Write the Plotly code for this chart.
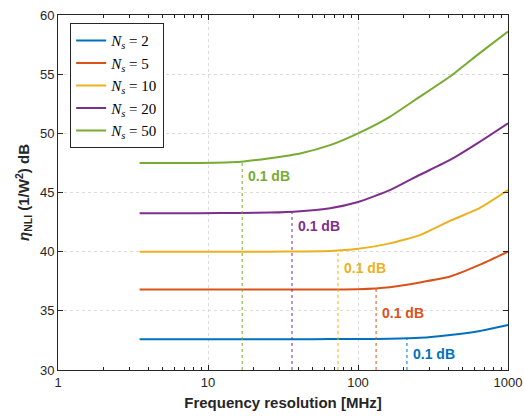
import math
import plotly.graph_objects as go

# Frequency resolution grid [MHz]
freq = [3.5, 8.8, 16.6, 25.9, 41.1, 65.1, 100, 163, 259, 411, 651, 1000]

# eta_NLI [dB] for each number of spans
eta_ns2 = [32.6, 32.6, 32.6, 32.6, 32.6, 32.61, 32.62, 32.64, 32.72, 32.96, 33.3, 33.8]
eta_ns5 = [36.8, 36.8, 36.8, 36.8, 36.8, 36.81, 36.83, 37.0, 37.4, 37.9, 38.9, 40.0]
eta_ns10 = [40.0, 40.0, 40.0, 40.0, 40.02, 40.06, 40.25, 40.7, 41.4, 42.6, 43.7, 45.2]
eta_ns20 = [43.25, 43.25, 43.27, 43.3, 43.42, 43.67, 44.2, 45.2, 46.5, 47.75, 49.3, 50.85]
eta_ns50 = [47.5, 47.5, 47.6, 47.9, 48.3, 49.0, 50.0, 51.4, 53.1, 54.8, 56.8, 58.6]

series_names = ["<i>N</i><sub><i>s</i></sub> = 2", "<i>N</i><sub><i>s</i></sub> = 5",
                "<i>N</i><sub><i>s</i></sub> = 10", "<i>N</i><sub><i>s</i></sub> = 20",
                "<i>N</i><sub><i>s</i></sub> = 50"]
series_vals = [eta_ns2, eta_ns5, eta_ns10, eta_ns20, eta_ns50]
colors = ["#0072BD", "#D95319", "#EDB120", "#7E2F8E", "#77AC30"]

# Resolution at which each curve has risen by 0.1 dB, and the curve level there
f_01db = [212, 132, 73.6, 36.3, 16.9]
eta_at_01db = [32.7, 36.9, 40.1, 43.38, 47.6]
label_y = [31.35, 34.82, 38.62, 42.17, 46.4]

fig = go.Figure()

for name, vals, col in zip(series_names, series_vals, colors):
    fig.add_trace(go.Scatter(x=freq, y=vals, mode="lines", name=name,
                             line=dict(color=col, width=2, shape="spline", smoothing=0.5)))

for f, e, ly, col in zip(f_01db, eta_at_01db, label_y, colors):
    fig.add_trace(go.Scatter(x=[f, f], y=[30, e], mode="lines", showlegend=False,
                             line=dict(color=col, width=1, dash="dot"), hoverinfo="skip"))
    # annotation x on a log axis is given in log10 units
    fig.add_annotation(x=math.log10(f), y=ly, xref="x", yref="y", text="<b>0.1 dB</b>",
                       showarrow=False, xanchor="left", yanchor="middle", xshift=4,
                       font=dict(family="Liberation Sans, Arial", size=14, color=col))

axis_common = dict(showline=True, linecolor="#262626", linewidth=1, mirror="ticks",
                   ticks="inside", tickcolor="#262626", ticklen=5,
                   showgrid=True, gridcolor="#dcdcdc", griddash="dot", gridwidth=1,
                   zeroline=False, automargin=False,
                   tickfont=dict(family="Liberation Sans, Arial", size=13, color="#262626"))

fig.update_xaxes(type="log", range=[0, 3], tickvals=[1, 10, 100, 1000],
                 ticktext=["1", "10", "100", "1000"],
                 minor=dict(ticks="inside", ticklen=3, tickcolor="#262626", dtick="D1", showgrid=False),
                 title=dict(text="<b>Frequency resolution [MHz]</b>", standoff=8,
                            font=dict(family="Liberation Sans, Arial", size=15, color="#262626")),
                 **axis_common)
fig.update_yaxes(range=[30, 60], dtick=5,
                 title=dict(text="<b><i>η</i><sub>NLI</sub> (1/W<sup>2</sup>) dB</b>", standoff=6,
                            font=dict(family="Liberation Sans, Arial", size=15, color="#262626")),
                 **axis_common)

fig.update_layout(
    width=524, height=416, autosize=False,
    margin=dict(l=58, r=16, t=15, b=46, autoexpand=False),
    plot_bgcolor="white", paper_bgcolor="white",
    legend=dict(x=0.027, y=0.977, xanchor="left", yanchor="top",
                bgcolor="white", bordercolor="#262626", borderwidth=1,
                font=dict(family="Liberation Serif, Times New Roman", size=15, color="#000000"),
                tracegroupgap=0),
)

fig.write_html("out.html")
